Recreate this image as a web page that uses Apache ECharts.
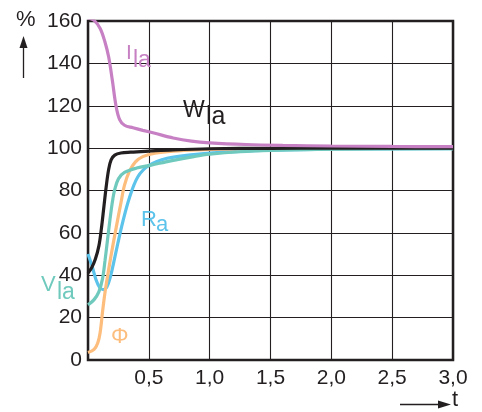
<!DOCTYPE html>
<html>
<head>
<meta charset="utf-8">
<script src="https://cdn.jsdelivr.net/npm/echarts@6/dist/echarts.min.js"></script>
<style>
html,body{margin:0;padding:0;background:#fff;}
#c{width:482px;height:412px;}
</style>
</head>
<body>
<div id="c"></div>
<script>
// x-axis ticks (t) and y-axis ticks (%)
var xTicks = [0, 0.5, 1.0, 1.5, 2.0, 2.5, 3.0];
var yTicks = [0, 20, 40, 60, 80, 100, 120, 140, 160];

// series: [t, %]
var I_la = [[0,161.5],[0.05,160.3],[0.1,156.5],[0.14,150],[0.17,143],[0.2,132],[0.23,120],[0.26,113.5],[0.3,110.8],[0.37,109.6],[0.45,108.4],[0.55,107],[0.7,104.8],[0.85,103.3],[1.0,102.5],[1.3,101.7],[1.6,101.3],[2.0,101.0],[2.5,100.8],[3.0,100.7]];
var W_la = [[0,41],[0.03,43.5],[0.06,47.5],[0.09,54],[0.11,62],[0.13,72],[0.15,82],[0.17,90],[0.19,94.5],[0.22,96.7],[0.27,97.7],[0.35,98.1],[0.5,98.6],[0.7,99.2],[1.0,99.7],[1.5,99.9],[2.0,100],[3.0,100]];
var V_la = [[0,26],[0.05,28.5],[0.09,32.3],[0.12,38.5],[0.14,47],[0.16,56.5],[0.18,66],[0.2,74.5],[0.22,80.5],[0.25,85.5],[0.3,88.5],[0.4,90.6],[0.52,92],[0.68,94],[0.87,96],[1.0,97.1],[1.25,98.3],[1.5,98.9],[2.0,99.5],[3.0,99.8]];
var R_a = [[0,50],[0.035,44],[0.065,38],[0.095,34.3],[0.125,33.2],[0.155,34.5],[0.185,39.5],[0.215,47],[0.245,55],[0.285,65],[0.34,76.5],[0.41,86.5],[0.5,91.8],[0.65,95.2],[0.87,97],[1.0,97.7],[1.25,98.5],[1.5,99],[2.0,99.5],[3.0,99.8]];
var Phi = [[0,3.5],[0.05,5],[0.08,8],[0.1,13],[0.12,23],[0.14,32],[0.165,41],[0.19,49.5],[0.23,62],[0.27,74],[0.3,82.5],[0.34,89],[0.39,93.5],[0.45,96],[0.55,97.6],[0.7,98.6],[0.9,99.2],[1.2,99.6],[2.0,99.8],[3.0,100]];

var FONT = '"Liberation Sans", Arial, Helvetica, sans-serif';
var INK = '#231f20';
var C_PINK = '#c680c3', C_TEAL = '#6fcabd', C_BLUE = '#5cc3eb', C_ORANGE = '#fdbd7c';

var chart = echarts.init(document.getElementById('c'), null, {renderer: 'canvas'});

function line(name, data, color, z) {
  return {
    name: name, type: 'line', data: data, smooth: 0.35,
    showSymbol: false, symbol: 'none', z: z,
    lineStyle: {color: color, width: 3.2}
  };
}

function txt(x, y, s, color, size) {
  return {type: 'text', left: x, top: y, z: 50,
    style: {text: s, fill: color, font: size + 'px ' + FONT}};
}

chart.setOption({
  animation: false,
  grid: {left: 88, right: 29, top: 21, bottom: 52, show: true,
         borderColor: INK, borderWidth: 2.5, backgroundColor: 'transparent'},
  xAxis: {
    type: 'value', min: xTicks[0], max: xTicks[xTicks.length - 1], interval: 0.5,
    axisLine: {show: false}, axisTick: {show: false},
    splitLine: {show: true, lineStyle: {color: INK, width: 1.1}},
    axisLabel: {
      margin: 8, color: INK, fontSize: 21, fontFamily: FONT,
      formatter: function (v) { return v === 0 ? '' : v.toFixed(1).replace('.', ','); }
    }
  },
  yAxis: {
    type: 'value', min: yTicks[0], max: yTicks[yTicks.length - 1], interval: 20,
    axisLine: {show: false}, axisTick: {show: false},
    splitLine: {show: true, lineStyle: {color: INK, width: 1.1}},
    axisLabel: {margin: 6, color: INK, fontSize: 21, fontFamily: FONT}
  },
  series: [
    line('R_a', R_a, C_BLUE, 2),
    line('Φ', Phi, C_ORANGE, 3),
    line('V_la', V_la, C_TEAL, 4),
    line('W_la', W_la, INK, 5),
    line('I_la', I_la, C_PINK, 6)
  ],
  graphic: [
    // axis unit and arrows
    txt(16, 9, '%', INK, 22),
    {type: 'line', z: 50, shape: {x1: 23.5, y1: 78, x2: 23.5, y2: 46}, style: {stroke: INK, lineWidth: 1.3}},
    {type: 'polygon', z: 50, shape: {points: [[19.5, 48], [27.5, 48], [23.5, 36]]}, style: {fill: INK}},
    {type: 'line', z: 50, shape: {x1: 400, y1: 404.5, x2: 440, y2: 404.5}, style: {stroke: INK, lineWidth: 1.3}},
    {type: 'polygon', z: 50, shape: {points: [[438, 400.5], [438, 408.5], [451, 404.5]]}, style: {fill: INK}},
    txt(452, 389, 't', INK, 22),
    // curve labels
    txt(126, 43, 'I', C_PINK, 21),
    txt(133, 49, 'la', C_PINK, 23),
    txt(183, 99, 'W', INK, 23),
    txt(206, 105, 'la', INK, 25),
    txt(41, 274, 'V', C_TEAL, 22),
    txt(57, 281, 'la', C_TEAL, 23),
    txt(141, 209, 'R', C_BLUE, 22),
    txt(156, 214, 'a', C_BLUE, 22),
    txt(111, 326, 'Φ', C_ORANGE, 22)
  ]
});
</script>
</body>
</html>
